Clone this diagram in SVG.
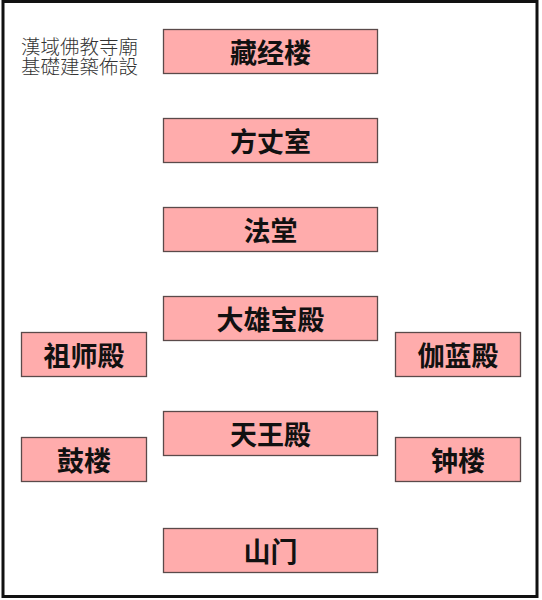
<svg xmlns="http://www.w3.org/2000/svg" width="542" height="600" viewBox="0 0 542 600">
<style>
.b{fill:#FFACAC;stroke:#5a4a4a;stroke-width:1.3}
.t{font-family:"Noto Sans CJK SC","Noto Sans CJK TC",sans-serif;font-weight:bold;font-size:27px;fill:#111;text-anchor:middle;dominant-baseline:central}
.h{font-family:"Noto Sans CJK TC","Noto Sans CJK SC",sans-serif;font-weight:300;font-size:19.5px;fill:#333}
</style>
<rect x="0" y="0" width="542" height="600" fill="#fff"/>
<rect x="3" y="1.5" width="534" height="595" fill="none" stroke="#111" stroke-width="3"/>
<text class="h" x="21" y="54"><tspan x="21" y="54">漢域佛教寺廟</tspan><tspan x="21" y="74">基礎建築佈設</tspan></text>
<g id="connectors"></g>
<g id="n1"><rect class="b" x="163.5" y="29.5" width="214" height="44"/><text class="t" x="270.5" y="51.5">藏经楼</text></g>
<g id="n2"><rect class="b" x="163.5" y="118.5" width="214" height="44"/><text class="t" x="270.5" y="140.5">方丈室</text></g>
<g id="n3"><rect class="b" x="163.5" y="207.5" width="214" height="44"/><text class="t" x="270.5" y="229.5">法堂</text></g>
<g id="n4"><rect class="b" x="163.5" y="296.5" width="214" height="44"/><text class="t" x="270.5" y="318.5">大雄宝殿</text></g>
<g id="n5"><rect class="b" x="163.5" y="411.5" width="214" height="44"/><text class="t" x="270.5" y="433.5">天王殿</text></g>
<g id="n6"><rect class="b" x="163.5" y="528.5" width="214" height="44"/><text class="t" x="270.5" y="550.5">山门</text></g>
<g id="n7"><rect class="b" x="21.5" y="332.5" width="125" height="44"/><text class="t" x="84" y="354.5">祖师殿</text></g>
<g id="n8"><rect class="b" x="21.5" y="437.5" width="125" height="44"/><text class="t" x="84" y="459.5">鼓楼</text></g>
<g id="n9"><rect class="b" x="395.5" y="332.5" width="125" height="44"/><text class="t" x="458" y="354.5">伽蓝殿</text></g>
<g id="n10"><rect class="b" x="395.5" y="437.5" width="125" height="44"/><text class="t" x="458" y="459.5">钟楼</text></g>
</svg>
